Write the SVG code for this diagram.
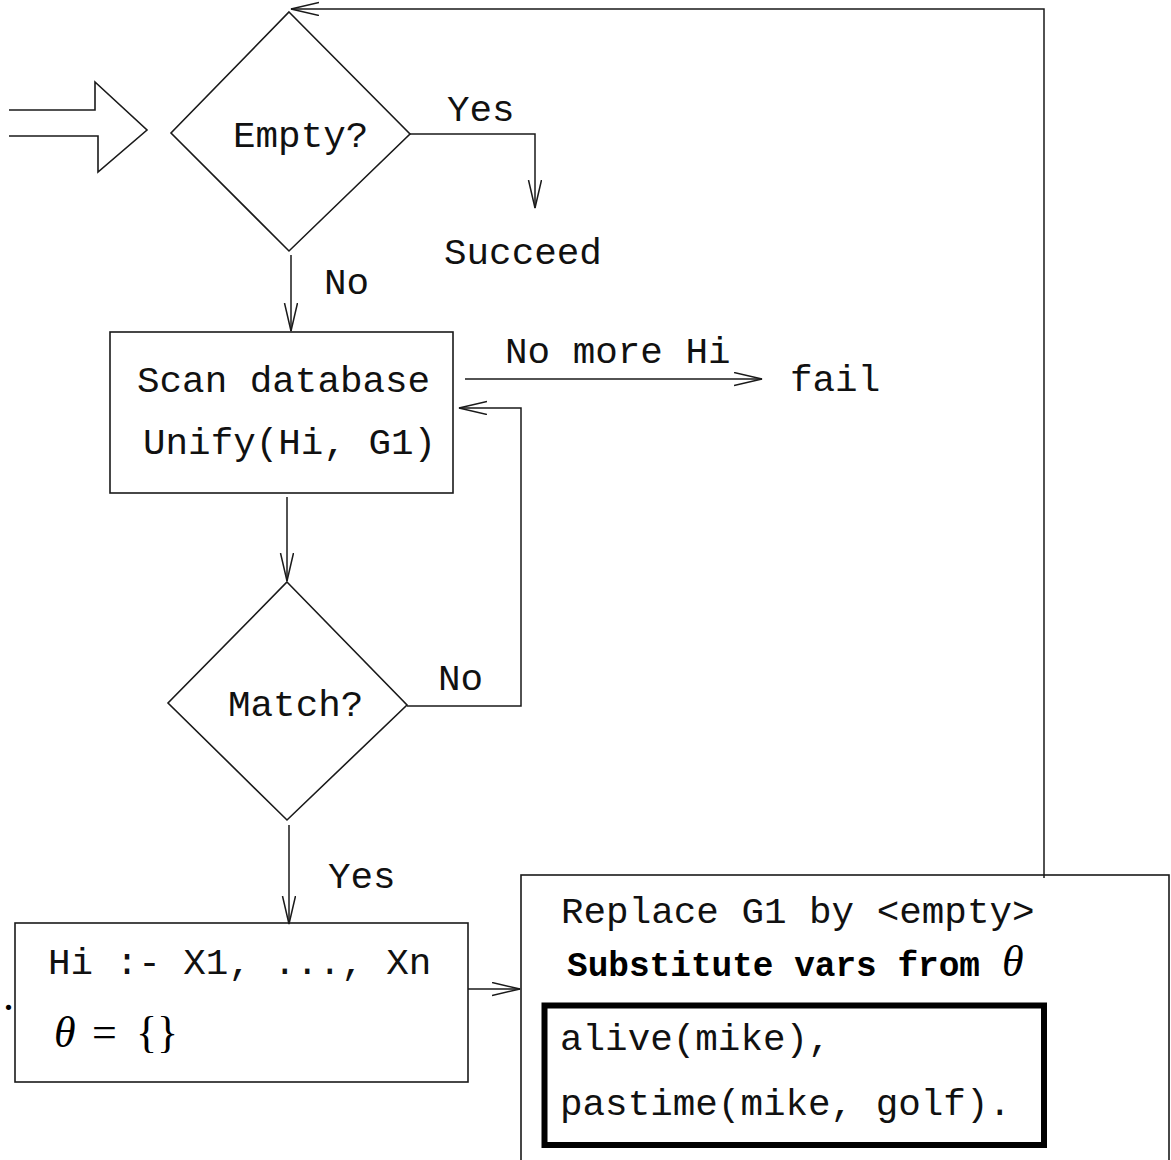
<svg xmlns="http://www.w3.org/2000/svg" width="1171" height="1160" viewBox="0 0 1171 1160">
  <style>
    .shape { fill: none; stroke: #1a1a1a; stroke-width: 1.6; }
    .thick { fill: none; stroke: #000; stroke-width: 6; }
    .conn { fill: none; stroke: #1a1a1a; stroke-width: 1.5; marker-end: url(#arrow); }
    .tt { font-family: "Liberation Mono", "DejaVu Sans Mono", monospace; font-size: 37.6px; fill: #111; }
    .ttb { font-family: "Liberation Mono", "DejaVu Sans Mono", monospace; font-size: 35px; font-weight: bold; fill: #000; }
    .math { font-family: "Liberation Serif", "DejaVu Serif", serif; font-size: 44px; fill: #000; }
    .mi { font-style: italic; }
  </style>
  <defs>
    <marker id="arrow" markerUnits="userSpaceOnUse" markerWidth="32" markerHeight="16" refX="28" refY="7" orient="auto">
      <path d="M0,0.5 L28,7 L0,13.5" fill="none" stroke="#1a1a1a" stroke-width="1.5"/>
    </marker>
  </defs>

  <rect width="1171" height="1160" fill="#fff"/>

  <!-- entry arrow (hollow block arrow) -->
  <g id="entry">
    <polyline class="shape" points="9,110 95,110 95,82 147,130 98,172 98,136 9,136"/>
  </g>

  <!-- decision: goal list empty? -->
  <g id="empty">
    <polygon class="shape" points="289,12 410,134 289,251 171,133"/>
    <text class="tt" x="233" y="147">Empty?</text>
  </g>

  <g id="succeed">
    <text class="tt" x="444" y="264">Succeed</text>
  </g>

  <!-- scan the database -->
  <g id="scan">
    <rect class="shape" x="110" y="332" width="343" height="161"/>
    <text class="tt" x="137" y="392">Scan database</text>
    <text class="tt" x="143" y="454">Unify(Hi, G1)</text>
  </g>

  <g id="fail">
    <text class="tt" x="790" y="391">fail</text>
  </g>

  <!-- decision: unification succeeded? -->
  <g id="match">
    <polygon class="shape" points="287,582 407,705 287,820 168,703"/>
    <text class="tt" x="228" y="716">Match?</text>
  </g>

  <!-- matched clause -->
  <g id="clause">
    <rect class="shape" x="15" y="923" width="453" height="159"/>
    <text class="tt" x="48" y="974">Hi :- X1, ..., Xn</text>
    <text class="math"><tspan class="mi" x="54" y="1047">θ</tspan><tspan x="92" y="1047">=</tspan><tspan x="136" y="1047">{}</tspan></text>
  </g>

  <g id="dot">
    <text class="math" x="3" y="1010" font-size="30">.</text>
  </g>

  <!-- goal rewrite -->
  <g id="replace">
    <rect class="shape" x="521" y="875" width="648" height="300"/>
    <text class="tt" x="561" y="923">Replace G1 by &lt;empty&gt;</text>
    <text class="ttb" x="567" y="976" textLength="413" lengthAdjust="spacingAndGlyphs">Substitute vars from</text>
    <text class="math mi" x="1002" y="976" font-size="42">θ</text>
    <rect class="thick" x="544.5" y="1005.5" width="499.5" height="139.5"/>
    <text class="tt" x="560" y="1050">alive(mike),</text>
    <text class="tt" x="560" y="1115">pastime(mike, golf).</text>
  </g>

  <!-- connectors -->
  <g id="connectors">
    <path class="conn" d="M1044,878 L1044,9 L291,9"/>
    <path class="conn" d="M410,134 L535,134 L535,208"/>
    <path class="conn" d="M291,255 L291,331"/>
    <path class="conn" d="M465,379 L762,379"/>
    <path class="conn" d="M407,706 L521,706 L521,408 L459,408"/>
    <path class="conn" d="M287,497 L287,581"/>
    <path class="conn" d="M289,825 L289,924"/>
    <path class="conn" d="M468,989 L520,989"/>
  </g>

  <!-- connector labels -->
  <g id="labels">
    <text class="tt" x="447" y="121">Yes</text>
    <text class="tt" x="324" y="294">No</text>
    <text class="tt" x="505" y="363">No more Hi</text>
    <text class="tt" x="438" y="690">No</text>
    <text class="tt" x="328" y="888">Yes</text>
  </g>
</svg>
